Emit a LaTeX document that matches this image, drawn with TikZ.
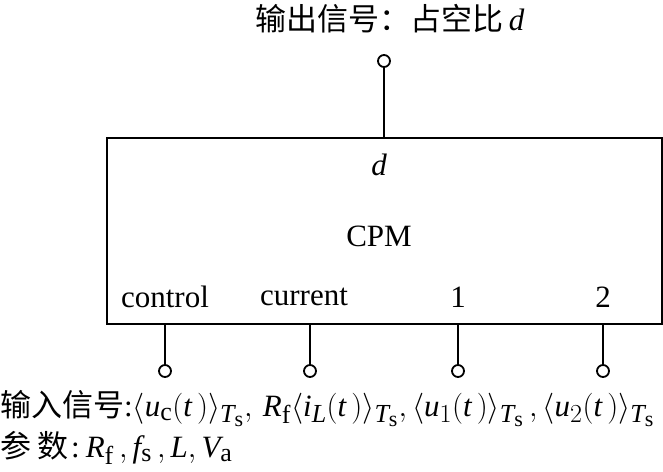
\documentclass[tikz,border=0pt]{standalone}
\usepackage{fix-cm}
\usepackage{fontspec}
\setmainfont{Liberation Serif}
\newfontfamily\cjk{Noto Sans CJK SC}
\newcommand\mi[1]{\mathit{#1}}
\DeclareMathSizes{31}{31}{26}{22}
\usetikzlibrary{positioning}

\begin{document}
\begin{tikzpicture}[x=1pt,y=-1pt,font=\fontsize{31}{36}\selectfont,
term/.style={circle,draw,line width=1.8pt,minimum size=12pt,inner sep=0pt,fill=white},
lead/.style={line width=1.8pt}]
\useasboundingbox (0,0) rectangle (663,471);
\node [draw,line width=2.2pt,minimum width=555pt,minimum height=186pt,inner sep=0pt] (B) at (384.5,231) {};
\node (d) at (379,165) {$\mi{d}$};
\node (cpm) at (379,236) {CPM};
\node [anchor=base] (ctl) at (165,307) {control};
\node [anchor=base] (cur) at (304,305) {current};
\node [anchor=base] (p1) at (458,307) {1};
\node [anchor=base] (p2) at (603,307) {2};
% output terminal
\node [anchor=base] (out) at (390,30) {{\cjk 输出信号：占空比}\,$\mi{d}$};
\node [term] (o) at (384,61) {};
\draw [lead] (o) -- (o |- B.north);
% input terminals
\node [term] (i1) at (165,371) {};
\node [term] (i2) at (310,371) {};
\node [term] (i3) at (458,371) {};
\node [term] (i4) at (603,371) {};
\draw [lead] (i1) -- (i1 |- B.south);
\draw [lead] (i2) -- (i2 |- B.south);
\draw [lead] (i3) -- (i3 |- B.south);
\draw [lead] (i4) -- (i4 |- B.south);
\node [anchor=base west,inner sep=0pt] (in) at (0,416) {{\cjk 输入信号}:$\langle\mi{u}_\mathrm{c}(\mi{t}\,)\rangle_{\mi{T}_\mathrm{s}},\,\mi{R}_\mathrm{f}\langle\mi{i}_\mi{L}(\mi{t}\,)\rangle_{\mi{T}_\mathrm{s}},\langle\mi{u}_1(\mi{t}\,)\rangle_{\mi{T}_\mathrm{s}}\,,\langle\mi{u}_2(\mi{t}\,)\rangle_{\mi{T}_\mathrm{s}}$};
\node [anchor=base west,inner sep=0pt] (par) at (0,457) {{\cjk 参\hspace{6pt}数}\hspace{3pt}:\hspace{6pt}$\mi{R}_\mathrm{f}\,,\mi{f}_\mathrm{s}\,,\mi{L},\mi{V}_\mathrm{a}$};
\end{tikzpicture}
\end{document}
